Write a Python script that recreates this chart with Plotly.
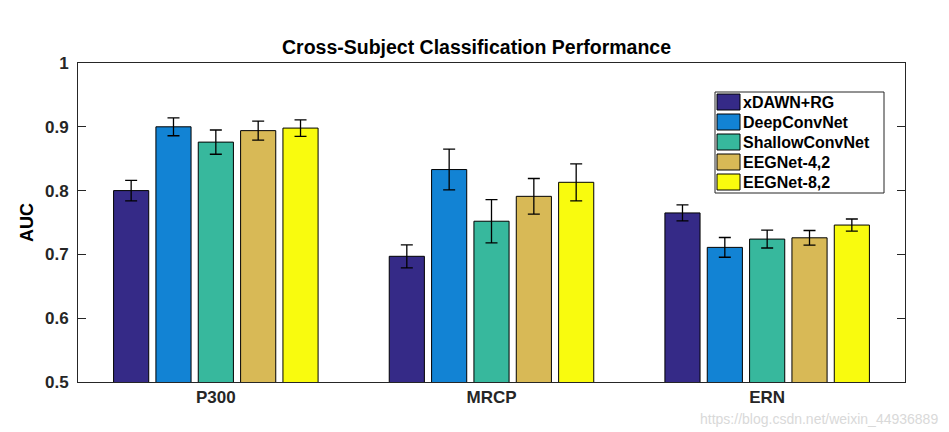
import plotly.graph_objects as go

categories = ["P300", "MRCP", "ERN"]
methods = ["xDAWN+RG", "DeepConvNet", "ShallowConvNet", "EEGNet-4,2", "EEGNet-8,2"]

auc_xdawn = [0.800, 0.697, 0.765]
auc_deep = [0.900, 0.833, 0.711]
auc_shallow = [0.876, 0.752, 0.724]
auc_eegnet42 = [0.894, 0.791, 0.726]
auc_eegnet82 = [0.898, 0.813, 0.746]

err_xdawn = [0.016, 0.018, 0.0125]
err_deep = [0.014, 0.032, 0.0155]
err_shallow = [0.019, 0.034, 0.014]
err_eegnet42 = [0.015, 0.028, 0.0115]
err_eegnet82 = [0.013, 0.029, 0.0095]

y_ticks = [0.5, 0.6, 0.7, 0.8, 0.9, 1.0]
y_tick_labels = ["0.5", "0.6", "0.7", "0.8", "0.9", "1"]

colors = ["#352a87", "#1283d4", "#37b89d", "#d8b956", "#f9fb0e"]

values = [auc_xdawn, auc_deep, auc_shallow, auc_eegnet42, auc_eegnet82]
errors = [err_xdawn, err_deep, err_shallow, err_eegnet42, err_eegnet82]

FONT = "Liberation Sans, Arial, sans-serif"

# figure geometry (page has an 8px body margin)
W, H = 941, 424
ML, MT, MR, MB = 70, 55, 44, 50
PW, PH = W - ML - MR, H - MT - MB


def px(xp):
    return (xp - ML) / PW


def py(yp):
    return 1 - (yp - MT) / PH


fig = go.Figure()
for name, vals, errs, col in zip(methods, values, errors, colors):
    fig.add_trace(go.Bar(
        x=categories, y=vals, name=name,
        marker=dict(color=col, line=dict(color="black", width=1)),
        error_y=dict(type="data", array=errs, visible=True,
                     color="black", thickness=1.3, width=6),
    ))

fig.update_layout(
    width=W, height=H,
    margin=dict(l=ML, r=MR, t=MT, b=MB),
    paper_bgcolor="white", plot_bgcolor="white",
    barmode="group", bargap=0.232, bargroupgap=0.17,
    font=dict(family=FONT, color="#262626"),
    title=dict(text="<b>Cross-Subject Classification Performance</b>",
               x=px(468.5), xref="paper", y=1 - 39 / H, yref="container",
               xanchor="center", yanchor="middle",
               font=dict(size=19.5, color="black", family=FONT)),
    showlegend=False,
)

# legend box drawn in paper coordinates
fig.add_shape(type="rect", xref="paper", yref="paper",
              x0=px(707), x1=px(876), y0=py(185), y1=py(84),
              line=dict(color="#262626", width=1), fillcolor="white", layer="above")
for i, (name, col) in enumerate(zip(methods, colors)):
    top = 86 + 20 * i
    fig.add_shape(type="rect", xref="paper", yref="paper",
                  x0=px(709), x1=px(732), y0=py(top + 16), y1=py(top),
                  line=dict(color="black", width=1), fillcolor=col, layer="above")
    fig.add_annotation(text=f"<b>{name}</b>", xref="paper", yref="paper",
                       x=px(733), y=py(top + 8.5), xanchor="left", yanchor="middle",
                       showarrow=False,
                       font=dict(size=16, color="black", family=FONT))

fig.update_xaxes(
    range=[-0.5, 2.5], showline=True, linecolor="#262626", linewidth=1,
    mirror=True, ticks="", showgrid=False,
    tickfont=dict(size=17, color="#262626", family=FONT),
    tickprefix="<b>", ticksuffix="</b>",
)
fig.update_yaxes(
    range=[0.5, 1.0], tickvals=y_ticks, ticktext=[f"<b>{t}</b>" for t in y_tick_labels],
    showline=True, linecolor="#262626", linewidth=1, mirror="ticks",
    ticks="inside", ticklen=8, tickcolor="#262626", showgrid=False, zeroline=False,
    tickfont=dict(size=17, color="#262626", family=FONT),
    ticklabelstandoff=5,
    title=dict(text="<b>AUC</b>", font=dict(size=18, color="black", family=FONT), standoff=6),
)

fig.add_annotation(
    text="https://blog.csdn.net/weixin_44936889", xref="paper", yref="paper",
    x=px(932), y=py(411), xanchor="right", yanchor="middle", showarrow=False,
    font=dict(size=14, color="#d9d9d9", family="Liberation Sans Narrow, Arial Narrow, sans-serif"),
)

fig.write_html("out.html")
